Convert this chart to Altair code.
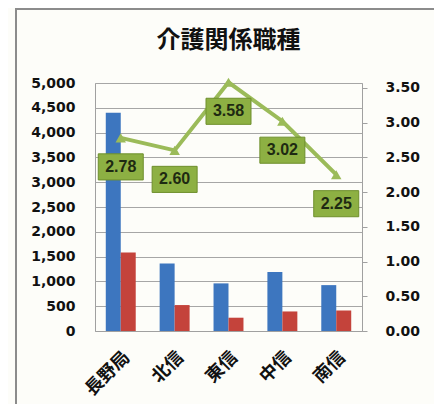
import altair as alt
import pandas as pd

title_text = "介護関係職種"
categories = ["長野局", "北信", "東信", "中信", "南信"]
series_names = ["有効求人数", "有効求職者数"]
jobs = [4400, 1360, 960, 1190, 925]
seekers = [1585, 523, 268, 394, 411]
ratio = [2.78, 2.60, 3.58, 3.02, 2.25]
left_ticks = [0, 500, 1000, 1500, 2000, 2500, 3000, 3500, 4000, 4500, 5000]
right_ticks = [0, 0.5, 1.0, 1.5, 2.0, 2.5, 3.0, 3.5]

bars_df = pd.DataFrame(
    [{"cat": c, "series": series_names[0], "value": v} for c, v in zip(categories, jobs)]
    + [{"cat": c, "series": series_names[1], "value": v} for c, v in zip(categories, seekers)]
)
line_df = pd.DataFrame({"cat": categories, "ratio": ratio})

AXFONT = "DejaVu Sans"
xscale = alt.Scale(paddingInner=0.444, paddingOuter=0.2)
xenc = alt.X(
    "cat:N", sort=categories, scale=xscale, title=None,
    axis=alt.Axis(labelAngle=-45, labelFont="Noto Sans CJK JP", labelFontWeight="bold",
                  labelFontSize=18, labelColor="#111111", ticks=False,
                  domainColor="#a0a0a0", labelPadding=17),
)

bars = alt.Chart(bars_df).mark_bar().encode(
    x=xenc,
    xOffset=alt.XOffset("series:N", sort=series_names, scale=alt.Scale(paddingInner=0, paddingOuter=0)),
    y=alt.Y("value:Q", scale=alt.Scale(domain=[0, 5000], nice=False),
            axis=alt.Axis(values=left_ticks, format=",d", title=None, orient="left",
                          labelFont=AXFONT, labelFontWeight="bold", labelFontSize=14,
                          labelColor="#111111", tickSize=0, domain=False,
                          gridColor="#a6a6a6", labelPadding=20)),
    color=alt.Color("series:N", sort=series_names,
                    scale=alt.Scale(domain=series_names, range=["#3d76bf", "#c4433b"]),
                    legend=None),
)

ry = alt.Y("ratio:Q", scale=alt.Scale(domain=[0, 3.57], nice=False),
           axis=alt.Axis(values=right_ticks, format=".2f", title=None, orient="right",
                         labelFont=AXFONT, labelFontWeight="bold", labelFontSize=14,
                         labelColor="#111111", tickSize=5, tickColor="#a0a0a0",
                         domain=False, grid=False, labelPadding=18))

line = alt.Chart(line_df).mark_line(color="#9bbb59", strokeWidth=4, clip=False).encode(
    x=alt.X("cat:N", sort=categories), y=ry)
marks = alt.Chart(line_df).mark_point(shape="triangle-up", filled=True, size=110,
                                      color="#9bbb59", opacity=1, clip=False).encode(
    x=alt.X("cat:N", sort=categories), y=ry)
boxes = alt.Chart(line_df).mark_point(shape="M-1,-0.58H1V0.58H-1Z", filled=True, size=2025,
                                      fill="#8db043", stroke="#6e8f2c", strokeWidth=1,
                                      opacity=1, yOffset=29, clip=False).encode(
    x=alt.X("cat:N", sort=categories), y=ry)
texts = alt.Chart(line_df).mark_text(font="Liberation Sans", fontWeight="bold", fontSize=16,
                                     color="#1e2a12", dy=29, clip=False).encode(
    x=alt.X("cat:N", sort=categories), y=ry, text=alt.Text("ratio:Q", format=".2f"))

deco_df = pd.DataFrame({"t": [title_text]})
frame = alt.Chart(deco_df).mark_rect(
    fill=None, stroke="#8c8c8c", strokeWidth=2, clip=False).encode(
    x=alt.value(-79), x2=alt.value(341), y=alt.value(-74), y2=alt.value(328))
title = alt.Chart(deco_df).mark_text(
    font="Noto Sans CJK JP", fontWeight="bold", fontSize=24, color="#111111",
    align="center", baseline="middle", clip=False).encode(
    x=alt.value(133.5), y=alt.value(-42), text="t:N")

right_layer = alt.layer(line, marks, boxes, texts)

chart = alt.layer(bars, right_layer, frame, title).resolve_scale(y="independent").properties(
    width=267, height=248,
    autosize=alt.AutoSizeParams(type="none"),
    padding={"left": 87, "top": 75, "right": 72, "bottom": 73},
    background="#fdfdf9",
).configure_view(stroke="#a0a0a0")

chart.save("out.html", embed_options={"renderer": "svg", "actions": False})
